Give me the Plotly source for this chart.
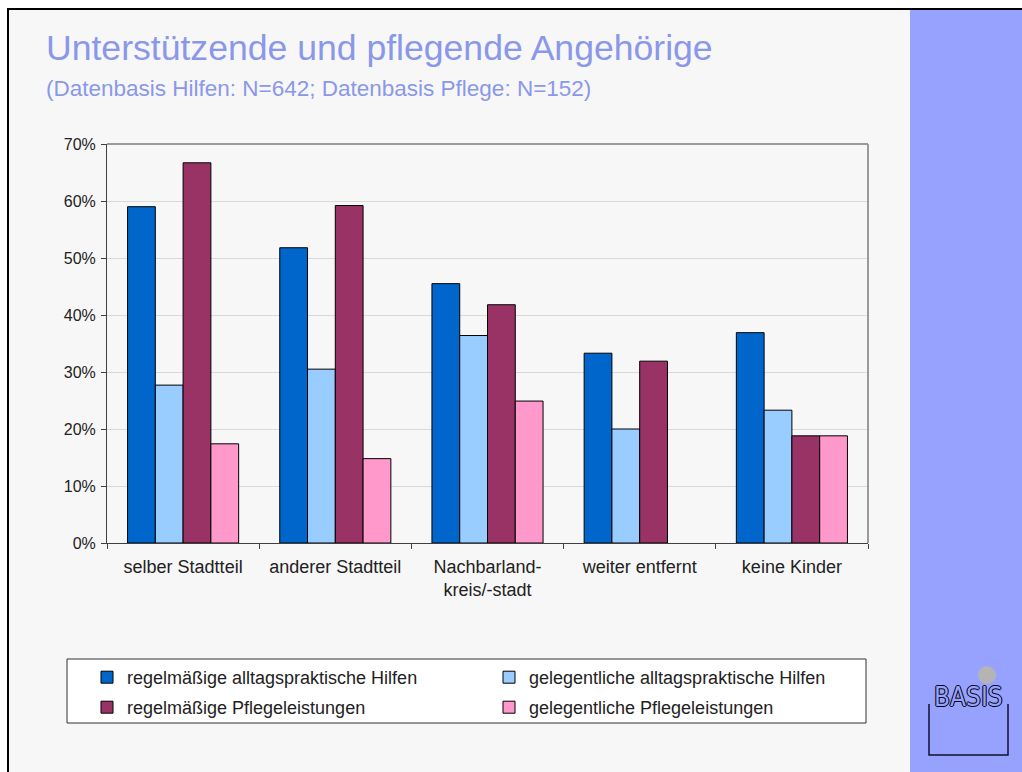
import plotly.graph_objects as go

# --- data -------------------------------------------------------------
categories = ["selber Stadtteil", "anderer Stadtteil", "Nachbarland-<br>kreis/-stadt",
              "weiter entfernt", "keine Kinder"]
series_names = ["regelmäßige alltagspraktische Hilfen",
                "gelegentliche alltagspraktische Hilfen",
                "regelmäßige Pflegeleistungen",
                "gelegentliche Pflegeleistungen"]
reg_hilfen = [59.0, 51.8, 45.5, 33.3, 36.9]
gel_hilfen = [27.7, 30.5, 36.4, 20.0, 23.3]
reg_pflege = [66.7, 59.2, 41.8, 31.9, 18.8]
gel_pflege = [17.4, 14.8, 24.9, None, 18.8]   # no value for "weiter entfernt"
y_ticks = [0, 10, 20, 30, 40, 50, 60, 70]
y_tick_labels = [f"{v}%" for v in y_ticks]

title_text = "Unterstützende und pflegende Angehörige"
subtitle_text = "(Datenbasis Hilfen: N=642; Datenbasis Pflege: N=152)"

# --- styling ------------------------------------------------------------
colors = ["#0066CC", "#99CCFF", "#993366", "#FF99CC"]
FONT = "Liberation Sans, Arial, Helvetica, sans-serif"
W, H = 1022, 772
L, R, T, B = 107, 154, 144, 229
PW, PH = W - L - R, H - T - B


def px(x):
    """pixel x -> paper x"""
    return (x - L) / PW


def py(y):
    """pixel y (from top) -> paper y"""
    return (H - B - y) / PH


fig = go.Figure()
values = [reg_hilfen, gel_hilfen, reg_pflege, gel_pflege]
legend_ids = ["legend", "legend", "legend2", "legend2"]
for name, vals, col, lg in zip(series_names, values, colors, legend_ids):
    fig.add_trace(go.Bar(
        x=categories, y=vals, name=name, legend=lg,
        marker=dict(color=col, line=dict(color="#000000", width=1)),
    ))

shapes = [
    # page background with black frame on top/left
    dict(type="rect", xref="paper", yref="paper", layer="below",
         x0=px(8), x1=px(1040), y0=py(9), y1=py(790),
         fillcolor="#F7F7F7", line=dict(color="#000000", width=2)),
    # coloured band on the right
    dict(type="rect", xref="paper", yref="paper", layer="below",
         x0=px(910), x1=px(1040), y0=py(10), y1=py(790),
         fillcolor="#97A1FE", line=dict(width=0)),
    # plot frame: top and right edges
    dict(type="line", xref="paper", yref="paper", x0=0, x1=1, y0=1, y1=1,
         line=dict(color="#9A9A9A", width=2)),
    dict(type="line", xref="paper", yref="paper", x0=1, x1=1, y0=0, y1=1,
         line=dict(color="#9A9A9A", width=2)),
    # legend box
    dict(type="rect", xref="paper", yref="paper", layer="below",
         x0=px(67), x1=px(866), y0=py(659), y1=py(723),
         fillcolor="#FFFFFF", line=dict(color="#333333", width=1)),
    # logo: grey dot and frame
    dict(type="circle", xref="paper", yref="paper",
         x0=px(978), x1=px(996), y0=py(666), y1=py(684),
         fillcolor="#B4B4B4", line=dict(width=0)),
    dict(type="path", xref="paper", yref="paper",
         path=(f"M{px(929)},{py(704)} L{px(929)},{py(755)} "
               f"L{px(1008)},{py(755)} L{px(1008)},{py(704)}"),
         line=dict(color="#111133", width=1.5)),
]

annotations = [
    dict(text=title_text, xref="paper", yref="paper", x=px(44), y=py(48),
         xanchor="left", yanchor="middle", showarrow=False,
         font=dict(family=FONT, size=35.6, color="#8A97EA")),
    dict(text=subtitle_text, xref="paper", yref="paper", x=px(44), y=py(88),
         xanchor="left", yanchor="middle", showarrow=False,
         font=dict(family=FONT, size=22.5, color="#8A97EA")),
    dict(text="BASIS", xref="paper", yref="paper", x=px(968.5), y=py(697),
         xanchor="center", yanchor="middle", showarrow=False,
         font=dict(family="Liberation Sans Narrow, DejaVu Sans Condensed, " + FONT,
                   size=26, color="#97A1FE",
                   shadow="1px 0 0 #000, -1px 0 0 #000, 0 1px 0 #000, 0 -1px 0 #000")),
]

legend_common = dict(
    orientation="h", xanchor="left", yanchor="top", x=px(87),
    bgcolor="rgba(0,0,0,0)", borderwidth=0,
    entrywidth=357, entrywidthmode="pixels",
    font=dict(family=FONT, size=18, color="#222222"),
)

fig.update_layout(
    width=W, height=H,
    margin=dict(l=L, r=R, t=T, b=B, pad=0),
    paper_bgcolor="#FFFFFF", plot_bgcolor="#F7F7F7",
    barmode="group", bargap=0.27, bargroupgap=0,
    showlegend=True,
    legend=dict(**legend_common, y=py(659)),
    legend2=dict(**legend_common, y=py(689)),
    shapes=shapes, annotations=annotations,
    font=dict(family=FONT),
    xaxis=dict(
        showline=True, linecolor="#404040", linewidth=1,
        ticks="outside", ticklen=5, tickcolor="#404040", tickson="boundaries",
        tickfont=dict(family=FONT, size=18, color="#222222"),
        ticklabelstandoff=7, showgrid=False, fixedrange=True,
    ),
    yaxis=dict(
        range=[0, 70], tickvals=y_ticks, ticktext=y_tick_labels,
        showline=True, linecolor="#404040", linewidth=1,
        ticks="outside", ticklen=5, tickcolor="#404040",
        tickfont=dict(family=FONT, size=16, color="#222222"),
        ticklabelstandoff=2,
        showgrid=True, gridcolor="#D9D9D9", gridwidth=1, zeroline=False,
        fixedrange=True,
    ),
)

fig.write_html("out.html")
